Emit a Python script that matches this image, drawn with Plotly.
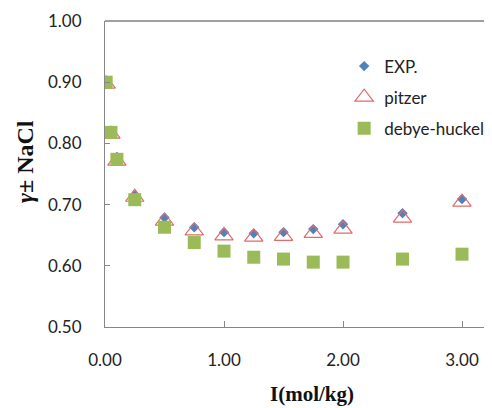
import plotly.graph_objects as go

ionic_strength = [0.01, 0.05, 0.1, 0.25, 0.5, 0.75, 1.0, 1.25, 1.5, 1.75, 2.0, 2.5, 3.0]
exp_vals = [0.900, 0.820, 0.778, 0.715, 0.679, 0.663, 0.655, 0.653, 0.655, 0.660, 0.668, 0.686, 0.709]
pitzer_vals = [0.897, 0.815, 0.771, 0.712, 0.673, 0.657, 0.649, 0.647, 0.648, 0.653, 0.660, 0.678, 0.704]
debye_vals = [0.900, 0.818, 0.774, 0.708, 0.663, 0.638, 0.624, 0.614, 0.611, 0.606, 0.606, 0.611, 0.619]

x_ticks = [0, 1, 2, 3]
x_tick_text = ["0.00", "1.00", "2.00", "3.00"]
y_ticks = [0.5, 0.6, 0.7, 0.8, 0.9, 1.0]
y_tick_text = ["0.50", "0.60", "0.70", "0.80", "0.90", "1.00"]

axis_color = "#868686"
tick_font = dict(family="Lato", size=17, color="#222222")

# page body has an 8px margin, so the figure is sized to fill the visible window
W, H = 484, 400
L, T, B = 97, 13, 81
PW = W - L
PH = H - T - B

fig = go.Figure()
fig.add_trace(go.Scatter(x=ionic_strength, y=exp_vals, mode="markers", name="EXP.",
                         legendgroup="a",
                         marker=dict(symbol="diamond", size=8, color="#4F81BD")))
fig.add_trace(go.Scatter(x=ionic_strength, y=pitzer_vals, mode="markers", name="pitzer",
                         legendgroup="b",
                         marker=dict(symbol="triangle-up-open", size=16, color="#E06B6B",
                                     line=dict(width=1.2, color="#E06B6B"))))
fig.add_trace(go.Scatter(x=ionic_strength, y=debye_vals, mode="markers", name="debye-huckel",
                         legendgroup="c",
                         marker=dict(symbol="square", size=13, color="#9BBB59")))

fig.update_layout(
    width=W, height=H,
    margin=dict(l=L, r=0, t=T, b=B),
    paper_bgcolor="white", plot_bgcolor="white",
    showlegend=True,
    legend=dict(x=0.618, y=0.91, xanchor="left", yanchor="top",
                font=dict(family="Lato", size=17, color="#222222"),
                tracegroupgap=6, itemwidth=30, bgcolor="rgba(0,0,0,0)"),
    xaxis=dict(range=[0, 3.252], tickvals=x_ticks, ticktext=x_tick_text,
               showgrid=False, zeroline=False, showline=True, linecolor=axis_color,
               linewidth=1, ticks="inside", ticklen=6, tickcolor=axis_color,
               tickfont=tick_font, ticklabelstandoff=18),
    yaxis=dict(range=[0.5, 1.0], tickvals=y_ticks, ticktext=y_tick_text,
               showgrid=False, zeroline=False, showline=True, linecolor=axis_color,
               linewidth=1, ticks="inside", ticklen=5, tickcolor=axis_color,
               tickfont=tick_font, ticklabelstandoff=19),
    shapes=[dict(type="line", xref="paper", yref="paper", x0=0, x1=1, y0=1, y1=1,
                 line=dict(color="#404040", width=1))],
    annotations=[
        dict(text="<b>I(mol/kg)</b>", xref="paper", yref="paper",
             x=(304 - L) / PW, y=-(386 - (T + PH)) / PH, xanchor="center", yanchor="middle",
             showarrow=False, font=dict(family="Liberation Serif", size=21, color="#111111")),
        dict(text="<b><i>γ</i>± NaCl</b>", xref="paper", yref="paper",
             x=-(L - 17) / PW, y=((T + PH) - 154) / PH, xanchor="center", yanchor="middle",
             textangle=-90, showarrow=False,
             font=dict(family="Liberation Serif", size=24, color="#111111")),
    ],
)

fig.write_html("out.html")
